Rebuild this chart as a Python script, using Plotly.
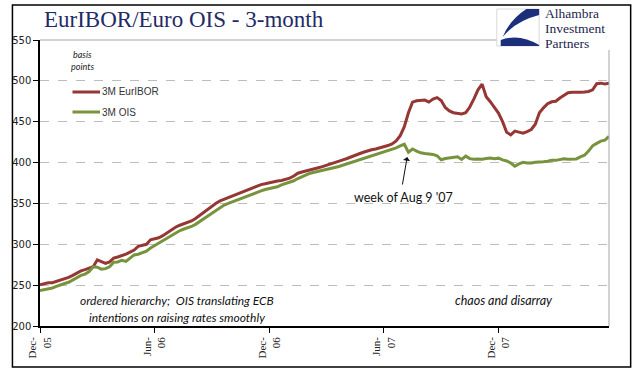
import plotly.graph_objects as go

# ---- data (basis points), weekly observations ----
euribor = [250.5, 252, 253, 253, 254.5, 256, 258, 259.5, 262, 265,
           267.5, 269, 270.5, 272.5, 281, 279, 276.5, 278.5, 283, 284.5,
           286, 288, 290.5, 293, 297.5, 298.3, 300, 305.5, 306.5, 308,
           310.5, 314, 317, 320.5, 323, 325, 326.5, 328.5, 331.5, 335.5,
           338.5, 342.5, 346.5, 350.3, 353, 355, 357.5, 359, 361, 363.5,
           365, 367, 369, 371, 373, 374, 375.3, 376.5, 377.5, 378,
           379.5, 381, 383.5, 387, 388.5, 390, 391, 392.5, 393.7, 395,
           396.5, 398.3, 400, 401.5, 403.3, 405, 407.2, 409, 410.8, 412.6,
           414.3, 415.7, 416.7, 417.8, 419, 420.8, 422.8, 426.5, 433, 444,
           461, 474, 475.6, 476.5, 476.5, 474, 477.7, 479.5, 476, 467.5,
           463.3, 461, 460.2, 459.5, 461, 468, 478, 489, 496, 480.5,
           474.5, 467, 460.5, 450, 437, 434, 438.5, 437.2, 436, 438,
           440.5, 447, 461, 467, 472, 474.4, 475, 479, 482.8, 485.5,
           486, 486.5, 486.2, 486.3, 487, 489, 496.5, 497.2, 496.2, 497]

ois = [243.5, 244.5, 245.5, 246.5, 248.5, 250.7, 252, 253.5, 256.5, 259,
       262, 263.5, 266.5, 272.5, 272, 269.5, 270.2, 272.5, 278, 278.4,
       280.5, 279, 283.5, 287, 287.8, 289.5, 291.5, 295.5, 298.5, 301.2,
       304.5, 307.5, 310.8, 314, 316.3, 318.4, 320, 321.8, 324.4, 327.5,
       330.5, 334.5, 337.9, 341.3, 345, 348, 350, 352, 354, 355.8,
       357.6, 359.4, 361.4, 363.5, 365.4, 367, 368.1, 368.7, 370.3, 372.8,
       374.3, 375.7, 377.7, 380.5, 383, 385, 387, 388.2, 389.2, 390.1,
       391.3, 392.6, 393.9, 395.2, 396.8, 398.2, 399.8, 401.5, 403, 404.5,
       406, 407.8, 409.5, 411.2, 412.8, 414.4, 416, 418, 420.3, 422.5,
       412.8, 416.6, 414, 412, 411.2, 410.7, 410, 408.3, 403.5, 405,
       405.9, 406.6, 407, 403.8, 407.9, 404.8, 404, 404.5, 404.2, 405,
       405.6, 404.8, 405.4, 403.3, 402, 399.5, 395.5, 398.4, 400.3, 399.5,
       399.5, 400.5, 400.5, 401, 401.7, 402.8, 402.7, 403.5, 404.6, 404.2,
       404, 404.5, 407, 409, 414, 420.5, 423.5, 426.2, 427.4, 432]

weeks = list(range(len(euribor)))
tick_weeks = [0, 28, 56, 84, 112]
tick_labels = ["Dec-<br>05", "Jun-<br>06", "Dec-<br>06", "Jun-<br>07", "Dec-<br>07"]
y_ticks = [200, 250, 300, 350, 400, 450, 500, 550]

RED = "#953735"
GREEN = "#77933C"
NAVY = "#1F2A66"

W, H = 641, 375
L, R, T, B = 31, 609, 40, 326   # plot area in pixels


def px(x):
    return (x - L) / (R - L)


def py(y):
    return (B - y) / (B - T)


def pt(x, y):
    return f"{px(x):.4f},{py(y):.4f}"


fig = go.Figure()
fig.add_trace(go.Scatter(x=weeks, y=euribor, mode="lines", name="3M EurIBOR",
                         line=dict(color=RED, width=3), showlegend=False))
fig.add_trace(go.Scatter(x=weeks, y=ois, mode="lines", name="3M OIS",
                         line=dict(color=GREEN, width=3), showlegend=False))

shapes = []
# outer frame
shapes.append(dict(type="rect", xref="paper", yref="paper",
                   x0=px(3), x1=px(631), y0=py(367), y1=py(5),
                   line=dict(color="black", width=1.5), fillcolor="rgba(0,0,0,0)", layer="below"))
# plot area top and right border
shapes.append(dict(type="line", xref="paper", yref="paper", x0=0, x1=1, y0=1, y1=1,
                   line=dict(color="#A6A6A6", width=1)))
shapes.append(dict(type="line", xref="paper", yref="paper", x0=1, x1=1, y0=0, y1=1,
                   line=dict(color="#A6A6A6", width=1)))
# white box for logo
shapes.append(dict(type="rect", xref="paper", yref="paper",
                   x0=px(495), x1=px(629), y0=py(50), y1=py(7),
                   line=dict(width=0), fillcolor="white", layer="above"))
# logo icon
shapes.append(dict(type="rect", xref="paper", yref="paper",
                   x0=px(495), x1=px(538), y0=py(46), y1=py(9),
                   line=dict(color="#D0D0D0", width=0.8), fillcolor="white", layer="above"))
icon1 = (f"M {pt(525, 9)} L {pt(538, 9)} L {pt(538, 15)} "
         f"Q {pt(514, 21)} {pt(501, 37)} Q {pt(508, 20)} {pt(525, 9)} Z")
icon2 = (f"M {pt(499, 40)} Q {pt(518, 33)} {pt(538, 45)} "
         f"L {pt(538, 46)} L {pt(499, 46)} Z")
shapes.append(dict(type="path", xref="paper", yref="paper", path=icon1,
                   fillcolor="#1B2F7A", line=dict(width=0), layer="above"))
shapes.append(dict(type="path", xref="paper", yref="paper", path=icon2,
                   fillcolor="#1B2F7A", line=dict(width=0), layer="above"))
# legend samples
shapes.append(dict(type="line", xref="paper", yref="paper", x0=px(64), x1=px(92),
                   y0=py(92), y1=py(92), line=dict(color=RED, width=3)))
shapes.append(dict(type="line", xref="paper", yref="paper", x0=px(64), x1=px(92),
                   y0=py(112), y1=py(112), line=dict(color=GREEN, width=3)))

ann = []
ann.append(dict(text="EurIBOR/Euro OIS - 3-month", xref="paper", yref="paper",
                x=px(33), y=py(19), xanchor="left", yanchor="middle", showarrow=False,
                font=dict(family="Liberation Serif", size=23, color=NAVY)))
for txt, yy in (("Alhambra", 13), ("Investment", 28), ("Partners", 43)):
    ann.append(dict(text=txt, xref="paper", yref="paper", x=px(543), y=py(yy),
                    xanchor="left", yanchor="middle", showarrow=False, borderpad=0,
                    font=dict(family="Liberation Serif", size=13.5, color="#1C2550")))
ann.append(dict(text="<i>basis</i>", xref="paper", yref="paper", x=px(74), y=py(54),
                xanchor="center", yanchor="middle", showarrow=False,
                font=dict(family="Lato", size=9, color="#222")))
ann.append(dict(text="<i>points</i>", xref="paper", yref="paper", x=px(74), y=py(67),
                xanchor="center", yanchor="middle", showarrow=False,
                font=dict(family="Lato", size=9, color="#222")))
ann.append(dict(text="3M EurIBOR", xref="paper", yref="paper", x=px(92), y=py(92),
                xanchor="left", yanchor="middle", showarrow=False,
                font=dict(family="Liberation Sans", size=10, color="#333")))
ann.append(dict(text="3M OIS", xref="paper", yref="paper", x=px(92), y=py(112),
                xanchor="left", yanchor="middle", showarrow=False,
                font=dict(family="Liberation Sans", size=10, color="#333")))
ann.append(dict(text="week of Aug 9 '07", xref="paper", yref="paper", x=px(400), y=py(197),
                xanchor="center", yanchor="middle", showarrow=False,
                font=dict(family="Lato", size=12.5, color="#111")))
ann.append(dict(text="", xref="paper", yref="paper", x=px(404), y=py(157),
                ax=-5, ay=29, showarrow=True, arrowhead=1, arrowwidth=1,
                arrowsize=1.2, arrowcolor="#111"))
ann.append(dict(text="<i>ordered hierarchy;  OIS translating ECB</i>", xref="paper", yref="paper",
                x=px(170), y=py(300), xanchor="center", yanchor="middle", showarrow=False,
                font=dict(family="Lato", size=12, color="#111")))
ann.append(dict(text="<i>intentions on raising rates smoothly</i>", xref="paper", yref="paper",
                x=px(170), y=py(317), xanchor="center", yanchor="middle", showarrow=False,
                font=dict(family="Lato", size=12, color="#111")))
ann.append(dict(text="<i>chaos and disarray</i>", xref="paper", yref="paper",
                x=px(502), y=py(300), xanchor="center", yanchor="middle", showarrow=False,
                font=dict(family="Lato", size=12.5, color="#111")))

fig.update_layout(
    width=W, height=H,
    margin=dict(l=L, r=W - R, t=T, b=H - B, pad=0),
    paper_bgcolor="white", plot_bgcolor="white",
    shapes=shapes, annotations=ann,
    xaxis=dict(range=[0, len(weeks) - 1], tickmode="array", tickvals=tick_weeks,
               ticktext=tick_labels, tickangle=-90, showgrid=False, zeroline=False,
               showline=True, linecolor="black", linewidth=1.5, ticks="outside",
               ticklen=5, tickcolor="black",
               tickfont=dict(family="Liberation Serif", size=11, color="#222")),
    yaxis=dict(range=[200, 550], tickmode="array", tickvals=y_ticks,
               showgrid=True, gridcolor="#BDBDBD", griddash="dash", gridwidth=1,
               zeroline=False, showline=True, linecolor="black", linewidth=1.5,
               ticks="outside", ticklen=5, tickcolor="black",
               tickfont=dict(family="DejaVu Sans", size=10, color="#222")),
)

fig.write_html("out.html", config={"displayModeBar": False},
               post_script="document.body.style.margin='0';document.body.style.overflow='hidden';")
